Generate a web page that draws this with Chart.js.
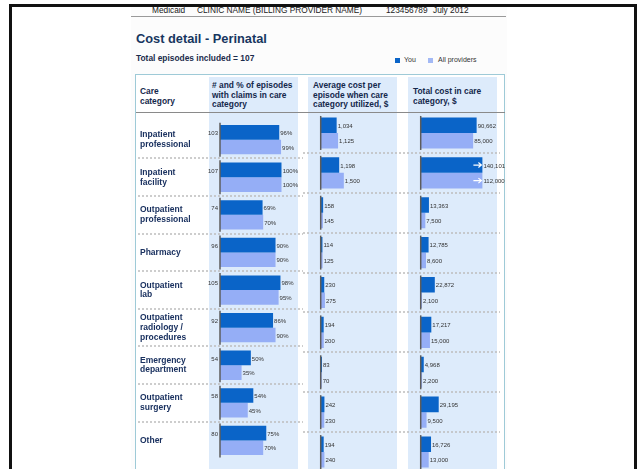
<!DOCTYPE html>
<html>
<head>
<meta charset="utf-8">
<script src="https://cdn.jsdelivr.net/npm/chart.js@4.4.1/dist/chart.umd.min.js"></script>
<style>
html, body { margin: 0; padding: 0; width: 638px; height: 469px; overflow: hidden; background: #fff; }
body { position: relative; font-family: "Liberation Sans", Arial, sans-serif; color: #222; }
.abs { position: absolute; white-space: nowrap; }
#frame { left: 9px; top: 4px; width: 622px; height: 520px; border: 3px solid #111; }
#page { left: 131px; top: 7px; width: 376px; height: 470px; background: #fcfcfc; }
.top { top: 5px; font-size: 8.3px; line-height: 10px; color: #222; }
#topline { left: 131px; top: 16px; width: 375px; height: 1px; background: #9a9a9a; }
#title { left: 136px; top: 31px; font-size: 12.8px; line-height: 15px; font-weight: bold; color: #17365f; }
#total { left: 136px; top: 53px; font-size: 8.4px; line-height: 10px; font-weight: bold; color: #1b2b4b; }
.sq { width: 5px; height: 5px; top: 58px; }
.leg { top: 56px; font-size: 7px; line-height: 8px; color: #333; }
#box { left: 135px; top: 74px; width: 368px; height: 420px; border: 1.5px solid #9ecad7; background: #fff; }
.panel { top: 77px; width: 89px; height: 400px; background: #ddebfb; }
.hd { font-size: 8.4px; line-height: 9.6px; font-weight: bold; color: #14284b; }
#hdline { left: 136px; top: 112px; width: 369px; height: 1px; background: #8a8a8a; }
.cv { position: absolute; top: 113px; }
</style>
</head>
<body>
<div id="frame" class="abs"></div>
<div id="page" class="abs"></div>

<div class="abs top" style="left:152px">Medicaid</div>
<div class="abs top" style="left:197px">CLINIC NAME (BILLING PROVIDER NAME)</div>
<div class="abs top" style="left:386px">123456789</div>
<div class="abs top" style="left:433px">July 2012</div>
<div id="topline" class="abs"></div>

<div id="title" class="abs">Cost detail - Perinatal</div>
<div id="total" class="abs">Total episodes included = 107</div>

<div class="abs sq" style="left:395px;background:#0a64c8"></div>
<div class="abs leg" style="left:404px">You</div>
<div class="abs sq" style="left:428px;background:#a3b9f5"></div>
<div class="abs leg" style="left:438px">All providers</div>

<div id="box" class="abs"></div>
<div class="abs panel" style="left:209px"></div>
<div class="abs panel" style="left:308px"></div>
<div class="abs panel" style="left:408px"></div>

<div class="abs hd" style="left:140px;top:85.5px;line-height:10.3px">Care<br>category</div>
<div class="abs hd" style="left:212px;top:81px">#&nbsp;and % of episodes<br>with claims in care<br>category</div>
<div class="abs hd" style="left:313px;top:81px">Average cost per<br>episode when care<br>category utilized, $</div>
<div class="abs hd" style="left:413px;top:85.5px;line-height:10.3px">Total cost in care<br>category, $</div>
<div id="hdline" class="abs"></div>

<canvas id="c1" class="cv" width="167" height="359" style="left:136px"></canvas>
<canvas id="c2" class="cv" width="100" height="359" style="left:303px"></canvas>
<canvas id="c3" class="cv" width="102" height="359" style="left:403px"></canvas>

<script>
// categories (line breaks as in the report)
const categories = [
    ['Inpatient', 'professional'],
    ['Inpatient', 'facility'],
    ['Outpatient', 'professional'],
    ['Pharmacy'],
    ['Outpatient', 'lab'],
    ['Outpatient', 'radiology /', 'procedures'],
    ['Emergency', 'department'],
    ['Outpatient', 'surgery'],
    ['Other']
];
const seriesNames = ['You', 'All providers'];

// # of episodes with claims (You)
const episodeCounts = [103, 107, 74, 96, 105, 92, 54, 58, 80];

// % of episodes with claims in care category
const pctYou = [96, 100, 69, 90, 98, 86, 50, 54, 75];
const pctAll = [99, 100, 70, 90, 95, 90, 35, 45, 70];

// average cost per episode when care category utilized, $
const avgCostYou = [1034, 1198, 158, 114, 230, 194, 83, 242, 194];
const avgCostAll = [1125, 1500, 145, 125, 275, 200, 70, 230, 240];

// total cost in care category, $
const totalCostYou = [90662, 140101, 13363, 12785, 22872, 17217, 4968, 29195, 16726];
const totalCostAll = [85000, 112000, 7500, 8600, 2100, 15000, 2200, 9500, 13000];

const colorYou = '#0a64c8';
const colorAll = '#95aef6';
const labelFont = '"Liberation Sans", Arial, sans-serif';

// separators, axis stubs, value labels, overflow arrows
function rowPlugin(opts) {
    return {
        id: 'rows',
        beforeDatasetsDraw(chart) {
            const ctx = chart.ctx;
            const y = chart.scales.y;
            ctx.save();
            ctx.strokeStyle = '#bdbdbd';
            ctx.lineWidth = 1.5;
            ctx.setLineDash([2, 2]);
            for (let i = 0; i < categories.length - 1; i++) {
                const yy = Math.round((y.getPixelForTick(i) + y.getPixelForTick(i + 1)) / 2);
                ctx.beginPath();
                ctx.moveTo(opts.lineFrom, yy);
                ctx.lineTo(chart.width - opts.lineTrim, yy);
                ctx.stroke();
            }
            ctx.restore();
        },
        afterDatasetsDraw(chart) {
            const ctx = chart.ctx;
            const x = chart.scales.x;
            const y = chart.scales.y;
            const area = chart.chartArea;
            const x0 = x.getPixelForValue(0);
            ctx.save();

            // axis stub per row
            ctx.strokeStyle = '#5c5c5c';
            ctx.lineWidth = 1.5;
            for (let i = 0; i < categories.length; i++) {
                const c = y.getPixelForTick(i);
                ctx.beginPath();
                ctx.moveTo(x0, c - 17);
                ctx.lineTo(x0, c + 17);
                ctx.stroke();
            }

            ctx.font = '6px ' + labelFont;
            ctx.fillStyle = '#333';
            ctx.textBaseline = 'middle';
            chart.data.datasets.forEach((ds, di) => {
                chart.getDatasetMeta(di).data.forEach((bar, i) => {
                    const v = ds.data[i];
                    const end = Math.min(bar.x, area.right);
                    if (v > x.max) {
                        // white arrow = bar cut off
                        ctx.strokeStyle = '#fff';
                        ctx.lineWidth = 1.2;
                        ctx.beginPath();
                        ctx.moveTo(end - 9, bar.y);
                        ctx.lineTo(end - 1, bar.y);
                        ctx.moveTo(end - 4, bar.y - 2.5);
                        ctx.lineTo(end - 1, bar.y);
                        ctx.lineTo(end - 4, bar.y + 2.5);
                        ctx.stroke();
                    }
                    ctx.textAlign = 'left';
                    ctx.fillText(opts.fmt(v), end + 1, bar.y + 1);
                });
            });

            if (opts.counts) {
                ctx.textAlign = 'right';
                chart.getDatasetMeta(0).data.forEach((bar, i) => {
                    ctx.fillText(String(opts.counts[i]), x0 - 2, bar.y + 1);
                });
            }
            ctx.restore();
        }
    };
}

function makeChart(id, you, all, max, pad, showLabels, opts) {
    return new Chart(document.getElementById(id), {
        type: 'bar',
        data: {
            labels: categories,
            datasets: [
                { label: seriesNames[0], data: you, backgroundColor: colorYou, clip: 0 },
                { label: seriesNames[1], data: all, backgroundColor: colorAll, clip: 0 }
            ]
        },
        options: {
            indexAxis: 'y',
            responsive: false,
            animation: false,
            devicePixelRatio: 1,
            events: [],
            categoryPercentage: 0.78,
            barPercentage: 1,
            layout: { padding: pad },
            plugins: { legend: { display: false }, tooltip: { enabled: false } },
            scales: {
                x: { display: false, min: 0, max: max },
                y: {
                    display: showLabels,
                    grid: { display: false },
                    border: { display: false },
                    afterFit: (s) => { s.width = showLabels ? 80 : 0; },
                    ticks: {
                        crossAlign: 'far',
                        color: '#1b3260',
                        font: { family: labelFont, size: 8.5, weight: 'bold', lineHeight: 1.15 }
                    }
                }
            }
        },
        plugins: [rowPlugin(opts)]
    });
}

makeChart('c1', pctYou, pctAll, 100,
    { left: 4, right: 21.3, top: 0, bottom: 0 }, true,
    { fmt: (v) => v + '%', counts: episodeCounts, lineFrom: 2, lineTrim: 0 });

makeChart('c2', avgCostYou, avgCostAll, 4000,
    { left: 17.7, right: 20.6, top: 0, bottom: 0 }, false,
    { fmt: (v) => v.toLocaleString('en-US'), lineFrom: 0, lineTrim: 0 });

makeChart('c3', totalCostYou, totalCostAll, 100000,
    { left: 17.7, right: 22.6, top: 0, bottom: 0 }, false,
    { fmt: (v) => v.toLocaleString('en-US'), lineFrom: 0, lineTrim: 5 });
</script>
</body>
</html>
